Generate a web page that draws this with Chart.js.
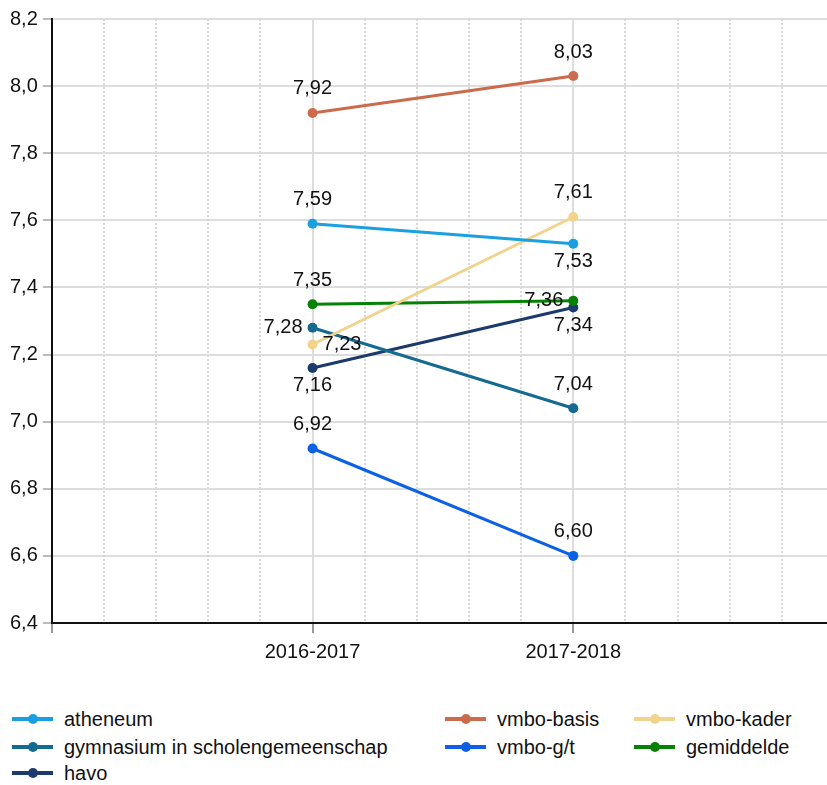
<!DOCTYPE html>
<html>
<head>
<meta charset="utf-8">
<script src="https://cdn.jsdelivr.net/npm/chart.js@4/dist/chart.umd.min.js"></script>
<style>
  html, body { margin: 0; padding: 0; background: #fff; overflow: hidden; }
  #wrap { position: relative; width: 827px; height: 785px; overflow: hidden; font-family: "Liberation Sans", Arial, sans-serif; }
  #c { position: absolute; left: 0; top: 0; }
  .lg { position: absolute; font-size: 20px; color: #111; white-space: nowrap; line-height: 24px; height: 24px; }
  .lg .sw { position: absolute; left: -52px; top: 10px; width: 41px; height: 4px; }
  .lg .dot { position: absolute; left: 16px; top: -3px; width: 10px; height: 10px; border-radius: 50%; }
</style>
</head>
<body>
<div id="wrap">
  <canvas id="c" width="832" height="671"></canvas>
  <div id="legend"></div>
</div>
<script>
// ---- data ----
const categories = ['2016-2017', '2017-2018'];
const seriesNames = ['atheneum', 'vmbo-basis', 'vmbo-kader', 'gymnasium in scholengemeenschap', 'vmbo-g/t', 'gemiddelde', 'havo'];
const atheneum = [7.59, 7.53];
const vmboBasis = [7.92, 8.03];
const vmboKader = [7.23, 7.61];
const gymnasium = [7.28, 7.04];
const vmboGT = [6.92, 6.60];
const gemiddelde = [7.35, 7.36];
const havo = [7.16, 7.34];
const yTicks = [6.4, 6.6, 6.8, 7.0, 7.2, 7.4, 7.6, 7.8, 8.0, 8.2];

// ---- styles ----
const colors = ['#1a9fe0', '#cb6b4b', '#f2d38e', '#146a91', '#0b60e4', '#058205', '#1d3a6c'];
const labelPlacement = [
  ['top', 'bottom'],
  ['top', 'top'],
  ['right', 'top'],
  ['left', 'top'],
  ['top', 'top'],
  ['top', 'left'],
  ['bottom', 'bottom']
];
const seriesValues = [atheneum, vmboBasis, vmboKader, gymnasium, vmboGT, gemiddelde, havo];

const fmt = v => v.toFixed(2).replace('.', ',');
const FONT = '"Liberation Sans", Arial, sans-serif';
const X_MAX = 2.973;

const datasets = seriesNames.map((name, i) => ({
  label: name,
  data: seriesValues[i].map((v, j) => ({ x: j + 1, y: v })),
  borderColor: colors[i],
  backgroundColor: colors[i],
  borderWidth: 3,
  pointRadius: 5,
  pointHoverRadius: 5,
  pointBorderWidth: 0,
  fill: false,
  tension: 0
}));

const minorGrid = {
  id: 'minorGrid',
  beforeDatasetsDraw(chart) {
    const { ctx, chartArea, scales } = chart;
    const xs = scales.x;
    ctx.save();
    ctx.strokeStyle = '#d8d8d8';
    ctx.lineWidth = 2;
    ctx.setLineDash([2, 2]);
    for (let k = 1; k < 20; k++) {
      if (k % 5 === 0) continue;
      const v = k / 5;
      if (v > xs.max) break;
      const px = Math.round(xs.getPixelForValue(v));
      ctx.beginPath();
      ctx.moveTo(px, chartArea.top);
      ctx.lineTo(px, chartArea.bottom);
      ctx.stroke();
    }
    ctx.restore();
  }
};

const valueLabels = {
  id: 'valueLabels',
  afterDatasetsDraw(chart) {
    const { ctx } = chart;
    ctx.save();
    ctx.font = '20px ' + FONT;
    ctx.fillStyle = '#111';
    chart.data.datasets.forEach((ds, i) => {
      const meta = chart.getDatasetMeta(i);
      meta.data.forEach((pt, j) => {
        const pos = labelPlacement[i][j];
        const txt = fmt(ds.data[j].y);
        let x = pt.x, y = pt.y;
        ctx.textBaseline = 'middle';
        if (pos === 'top') { ctx.textAlign = 'center'; y -= 24; }
        else if (pos === 'bottom') { ctx.textAlign = 'center'; y += 18; }
        else if (pos === 'left') { ctx.textAlign = 'right'; x -= 10; }
        else { ctx.textAlign = 'left'; x += 10; }
        ctx.fillText(txt, x, y);
      });
    });
    ctx.restore();
  }
};

const isEdge = ctx => ctx.tick && ctx.tick.value >= X_MAX - 1e-6;

new Chart(document.getElementById('c'), {
  type: 'line',
  data: { datasets },
  plugins: [minorGrid, valueLabels],
  options: {
    responsive: false,
    animation: false,
    layout: { padding: { left: 5, right: 0, top: 19, bottom: 0 } },
    plugins: { legend: { display: false }, tooltip: { enabled: false } },
    scales: {
      x: {
        type: 'linear',
        min: 0,
        max: X_MAX,
        afterBuildTicks: s => { s.ticks = [0, 1, 2, X_MAX].map(v => ({ value: v })); },
        afterFit: s => { s.paddingRight = 0; },
        ticks: {
          autoSkip: false,
          maxRotation: 0,
          font: { size: 20, family: FONT },
          color: '#111',
          padding: 7,
          callback: v => (v >= 1 && v <= categories.length && Number.isInteger(v)) ? categories[v - 1] : ''
        },
        grid: {
          color: c => isEdge(c) ? 'rgba(0,0,0,0)' : '#dddddd',
          tickColor: c => isEdge(c) ? 'rgba(0,0,0,0)' : '#999',
          lineWidth: 2, tickLength: 10
        },
        border: { color: '#111', width: 2 }
      },
      y: {
        min: 6.4,
        max: 8.2,
        afterBuildTicks: s => { s.ticks = yTicks.map(v => ({ value: v })); },
        ticks: {
          font: { size: 20, family: FONT },
          color: '#111',
          padding: 5,
          callback: v => v.toFixed(1).replace('.', ',')
        },
        grid: { color: '#dddddd', lineWidth: 2, tickLength: 9, tickColor: '#bbb' },
        border: { color: '#111', width: 2 }
      }
    }
  }
});

// ---- legend (grid layout like the reference) ----
const legendPos = [
  [64, 707], [497, 707], [686, 707],
  [64, 735], [497, 735], [686, 735],
  [64, 761]
];
const legend = document.getElementById('legend');
seriesNames.forEach((name, i) => {
  const d = document.createElement('div');
  d.className = 'lg';
  d.style.left = legendPos[i][0] + 'px';
  d.style.top = legendPos[i][1] + 'px';
  d.innerHTML = '<span class="sw" style="background:' + colors[i] + '"><span class="dot" style="background:' + colors[i] + '"></span></span>' + name;
  legend.appendChild(d);
});
</script>
</body>
</html>
